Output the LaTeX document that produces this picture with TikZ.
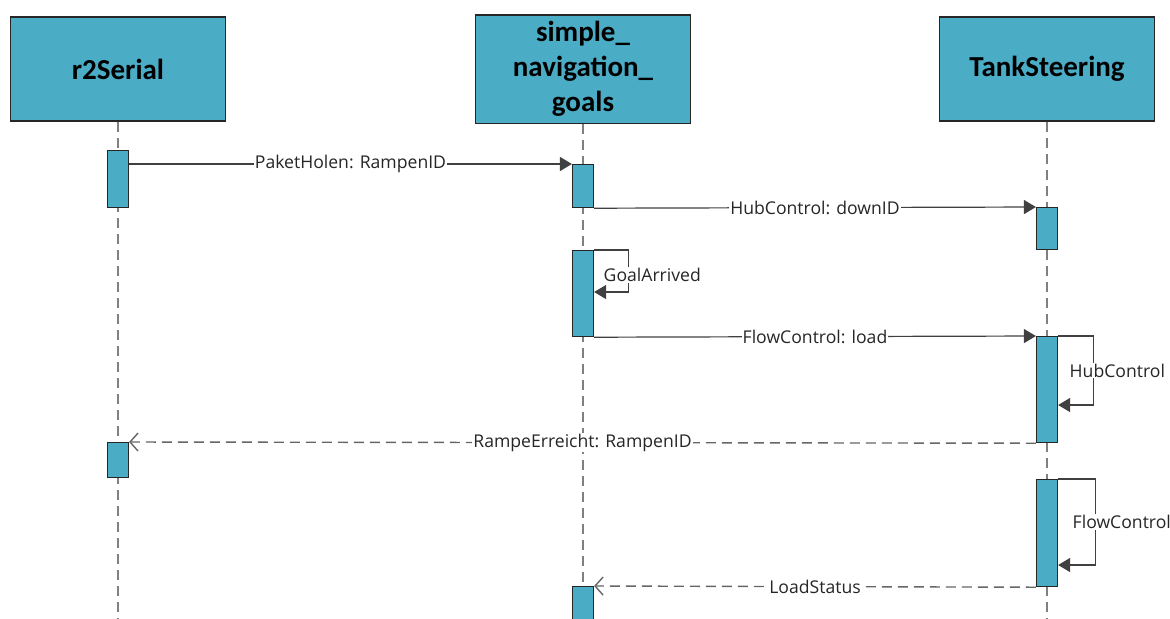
\documentclass[tikz,border=0pt]{standalone}
\usepackage{fontspec}
\setmainfont{Open Sans}
\newfontfamily\headfont{Carlito}
\usepackage{tikz}
\usetikzlibrary{arrows.meta, positioning, calc}
\usepackage{xcolor}
\definecolor{actblue}{RGB}{75,172,198}
\tikzstyle{lifehead} = [rectangle, draw=black!85, line width=0.8pt, fill=actblue, minimum width=107.5pt, minimum height=52pt, align=center, font=\headfont\fontsize{14.5}{17.5}\selectfont\bfseries]
\tikzstyle{act} = [rectangle, draw=black!85, line width=0.6pt, fill=actblue, minimum width=10.5pt, inner sep=0pt, anchor=north]
\tikzstyle{lifeline} = [line width=1pt, black!50, dash pattern=on 5pt off 3pt]
\tikzstyle{call} = [line width=0.6pt, black!75, -{Triangle[length=6pt,width=7pt]}]
\tikzstyle{reply} = [line width=0.7pt, black!60, dash pattern=on 5pt off 3pt, -{Straight Barb[length=4pt,width=9pt]}]
\tikzstyle{lbl} = [fill=white, inner sep=0.5pt, font=\fontsize{8.8}{10}\selectfont, text=black!85]

\begin{document}
\begin{tikzpicture}[x=0.5pt, y=-0.5pt]
  \clip (0,0) rectangle (1170,618);
  % lifeline heads
  \node[lifehead] (r2) at (118,69) {r2Serial};
  \node[lifehead] (nav) at (583,69) {simple\_\\navigation\_\\goals};
  \node[lifehead] (tank) at (1047,69) {TankSteering};

  \foreach \n in {r2,nav,tank}
    \draw[lifeline] (\n.south) -- (\n.south |- 0,630);

  % activations
  \node[act, minimum height=28.5pt] (r2a) at (118,150) {};
  \node[act, minimum height=21.5pt] (nava) at (583,164) {};
  \node[act, minimum height=21pt] (tanka) at (1047,207) {};
  \node[act, minimum height=43pt] (navb) at (583,250) {};
  \node[act, minimum height=53pt] (tankb) at (1047,336) {};
  \node[act, minimum height=17.5pt] (r2b) at (118,442) {};
  \node[act, minimum height=53.5pt] (tankc) at (1047,479) {};
  \node[act, minimum height=20pt] (navc) at (583,586) {};

  % messages
  \draw[call] (r2a.east |- nava.north) -- node[lbl]{PaketHolen: RampenID} (nava.north west);
  \draw[call] (nava.south east) -- node[lbl]{HubControl: downID} (tanka.north west);
  \draw[call] (navb.north east) -- ++(34,0) -- node[lbl, anchor=west, xshift=-13pt, yshift=-2pt]{GoalArrived} ++(0,42) -- ++(-34,0);
  \draw[call] (navb.south east) -- node[lbl]{FlowControl: load} (tankb.north west);
  \draw[call] (tankb.north east) -- ++(35,0) -- node[lbl, anchor=west, xshift=-12.5pt]{HubControl} ++(0,69) -- ++(-35,0);
  \draw[reply] (tankb.south west) -- node[lbl]{RampeErreicht: RampenID} (r2b.north east);
  \draw[call] (tankc.north east) -- ++(37,0) -- node[lbl, anchor=west, xshift=-12pt]{FlowControl} ++(0,86) -- ++(-37,0);
  \draw[reply] (tankc.south west) -- node[lbl]{LoadStatus} (navc.north east);
\end{tikzpicture}
\end{document}
